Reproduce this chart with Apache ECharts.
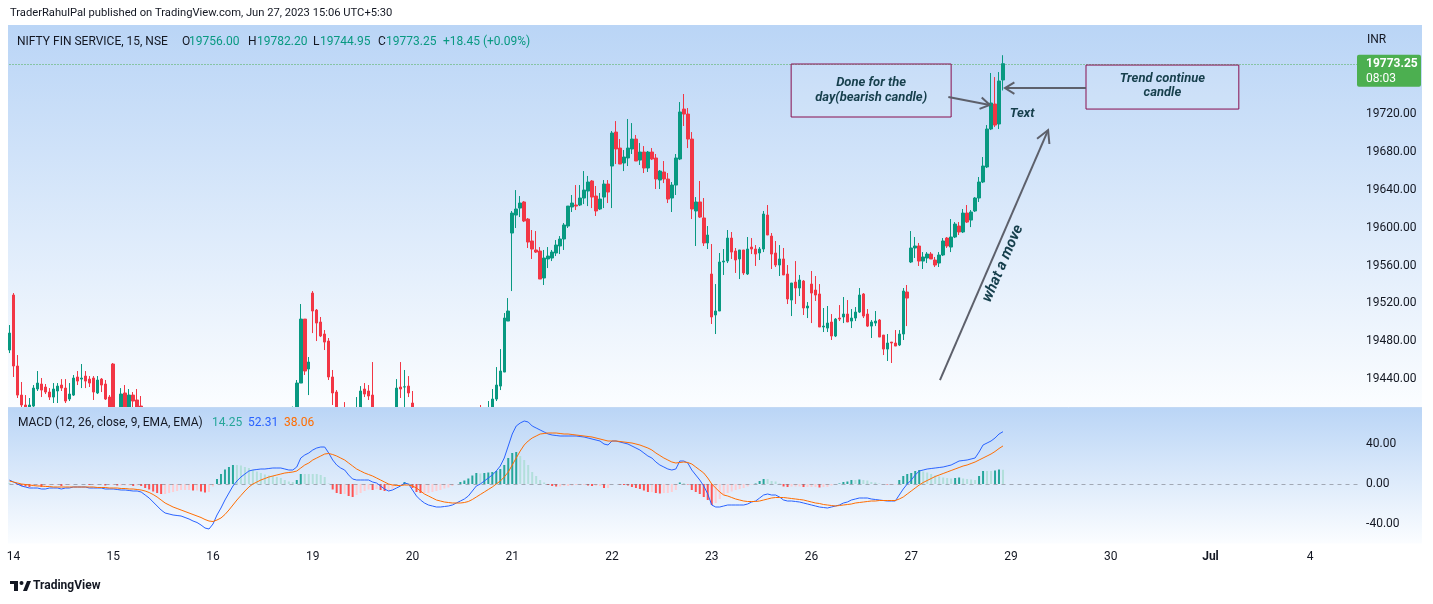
<!DOCTYPE html>
<html><head><meta charset="utf-8">
<script src="https://cdn.jsdelivr.net/npm/echarts@6/dist/echarts.min.js"></script>
<style>html,body{margin:0;padding:0;background:#fff;}#c{width:1433px;height:604px;}</style>
</head><body><div id="c"></div>
<script>
// ---------- DATA (each candle: [open, close, low, high]) ----------
const dayLabels = ['14','15','16','19','20','21','22','23','26','27','29','30','Jul','4'];
const jun13Last = [[19470.7,19488.6,19467.5,19497.1]];
const jun14 = [[19528.8,19453.8,19442.2,19530.9],[19453.8,19423.1,19420.0,19465.4],[19423.1,19412.6,19405.2,19436.9],[19412.6,19409.4,19403.1,19423.1],[19410.5,19412.6,19405.2,19420.0],[19411.5,19430.5,19408.4,19433.7],[19429.5,19435.8,19427.4,19448.5],[19434.8,19428.4,19421.0,19441.1],[19431.6,19426.3,19424.2,19434.8],[19426.3,19421.0,19417.9,19430.5],[19421.0,19429.5,19414.7,19435.8],[19427.4,19432.6,19414.7,19435.8],[19433.7,19430.5,19427.4,19440.0],[19430.5,19416.8,19414.7,19440.0],[19418.9,19424.2,19416.8,19435.8],[19423.1,19441.1,19422.1,19444.3],[19442.2,19437.9,19433.7,19448.5],[19440.0,19441.1,19430.5,19455.9],[19443.2,19437.9,19430.5,19448.5],[19440.0,19435.8,19431.6,19443.2],[19441.1,19426.3,19417.9,19443.2],[19425.3,19439.0,19424.2,19443.2],[19440.0,19433.7,19426.3,19441.1],[19434.8,19418.9,19417.9,19439.0],[19421.0,19410.5,19405.2,19423.1]];
const jun15 = [[19455.9,19402.0,19396.7,19457.0],[19402.0,19396.0,19390.0,19406.0],[19402.0,19424.2,19398.8,19430.5],[19425.3,19407.3,19405.2,19433.7],[19407.3,19423.1,19404.1,19429.5],[19423.1,19416.8,19410.5,19426.3],[19417.9,19408.4,19405.2,19429.5],[19411.5,19406.3,19403.1,19422.1],[19406,19385,19380,19408],[19385,19370,19362,19390],[19370,19352,19348,19374],[19352,19345,19338,19360],[19345,19332,19325,19350],[19332,19338,19326,19344],[19338,19330,19324,19345],[19330,19336,19322,19342],[19336,19325,19318,19340],[19325,19318,19312,19330],[19318,19322,19310,19328],[19322,19310,19305,19326],[19310,19300,19295,19315],[19300,19305,19294,19312],[19305,19292,19285,19308],[19292,19280,19275,19296],[19280,19285,19272,19292]];
const jun16 = [[19360,19378,19352,19382],[19378,19372,19366,19386],[19372,19385,19368,19390],[19385,19390,19378,19395],[19390,19384,19380,19396],[19384,19392,19380,19398],[19392,19395,19386,19400],[19395,19388,19384,19401],[19388,19394,19383,19399],[19394,19390,19386,19400],[19390,19396,19386,19401],[19396,19392,19388,19402],[19392,19398,19389,19403],[19398,19394,19390,19404],[19394,19399,19390,19404],[19399,19396,19391,19405],[19396,19400,19392,19405],[19400,19395,19390,19405],[19395,19398,19391,19404],[19398,19396,19392,19404],[19400,19410,19398,19411],[19408,19435.8,19404,19439.0],[19435.8,19503.4,19435.8,19519.3],[19503.4,19448.5,19444.3,19503.4],[19450.6,19458.0,19423.1,19463.3]];
const jun19 = [[19530.9,19511.9,19488.6,19533.0],[19512.9,19499.2,19480.2,19514.0],[19500.3,19485.5,19484.4,19505.6],[19487.6,19479.1,19470.7,19491.8],[19480.2,19442.2,19439.0,19483.4],[19442.2,19425.3,19412.6,19449.6],[19426.3,19405.2,19402.0,19428.4],[19405,19398,19392,19408],[19400,19394,19388,19415.7],[19394,19398,19388,19404],[19398,19392,19386,19403],[19392,19404,19388,19421.0],[19404,19427.4,19400,19432.6],[19429.5,19424.2,19421.0,19435.8],[19427.4,19422.1,19417.9,19433.7],[19423.1,19407.3,19405.2,19458.0],[19407,19398,19392,19409],[19398,19394,19388,19405],[19394,19390,19384,19400],[19390,19396,19385,19402],[19396,19402,19390,19406],[19405,19430.5,19400,19440.0],[19431.6,19429.5,19420.0,19458.0],[19431.6,19431.8,19408,19449.6],[19432.6,19425.3,19421.0,19443.2]];
const jun20 = [[19414.7,19405,19398,19427.4],[19405,19385,19380,19408],[19385,19372,19366,19390],[19372,19365,19358,19380],[19365,19370,19360,19376],[19370,19362,19355,19374],[19362,19366,19356,19372],[19366,19360,19354,19371],[19360,19368,19356,19373],[19368,19372,19362,19378],[19372,19368,19363,19378],[19368,19378,19365,19382],[19378,19385,19374,19390],[19385,19382,19378,19392],[19382,19392,19378,19396],[19392,19398,19388,19402],[19398,19395,19390,19404],[19400,19396,19392,19412.6],[19396,19402,19392,19406],[19400,19408,19396,19416.8],[19406,19418.9,19402,19429.5],[19418.9,19433.7,19416.8,19452.7],[19432.6,19448.5,19428.4,19471.7],[19447.4,19504.5,19447.4,19509.8],[19501.3,19511.9,19501.3,19525.6]];
const jun21 = [[19594.3,19615.4,19533.0,19617.6],[19613.3,19619.7,19599.6,19639.7],[19620.7,19626.0,19611.2,19633.4],[19627.1,19607.0,19605.9,19628.1],[19609.1,19584.8,19578.5,19610.2],[19585.9,19577.4,19566.9,19597.5],[19576.4,19574.2,19573.2,19596.4],[19575.3,19545.7,19545.7,19579.5],[19546.8,19567.9,19539.4,19576.4],[19566.9,19570.0,19557.3,19579.5],[19567.9,19574.2,19564.7,19576.4],[19573.2,19581.6,19570.0,19586.9],[19580.6,19588.0,19572.1,19591.1],[19588.0,19602.8,19576.4,19604.9],[19601.7,19622.8,19599.6,19622.8],[19621.8,19626.0,19616.5,19634.5],[19623.9,19622.8,19618.6,19645.0],[19623.9,19631.3,19622.8,19645.0],[19631.3,19639.7,19624.9,19659.8],[19638.7,19648.2,19622.8,19654.6],[19649.3,19632.3,19620.7,19650.3],[19633.4,19617.6,19612.3,19644.0],[19619.7,19630.2,19618.6,19636.6],[19632.3,19646.1,19620.7,19650.3],[19646.1,19637.6,19626.0,19650.3]];
const jun22 = [[19665.1,19700.0,19620.7,19702.1],[19701.0,19683.1,19667.2,19712.6],[19684.1,19667.2,19667.2,19693.6],[19668.3,19674.6,19659.8,19682.0],[19673.6,19684.1,19665.1,19714.8],[19683.1,19693.6,19677.8,19710.5],[19693.6,19670.4,19670.4,19697.9],[19671.4,19679.9,19666.2,19689.4],[19679.9,19663.0,19657.7,19686.2],[19663.0,19679.9,19658.8,19681.0],[19679.9,19672.5,19671.4,19684.1],[19673.6,19651.4,19640.8,19677.8],[19650.3,19659.8,19640.8,19660.9],[19658.8,19651.4,19647.1,19670.4],[19651.4,19630.2,19626.0,19657.7],[19631.3,19645.0,19616.5,19648.2],[19645.0,19673.6,19634.5,19677.8],[19672.5,19722.2,19671.4,19732.7],[19725.3,19720.0,19707.4,19741.2],[19720.0,19693.6,19684.1,19726.4],[19693.6,19619.7,19609.1,19701.0],[19617.6,19627.1,19580.6,19632.3],[19627.1,19611.2,19610.2,19649.3],[19610.2,19583.8,19580.6,19631.3],[19583.8,19592.2,19577.4,19601.7]];
const jun23 = [[19551.0,19505.6,19498.2,19582.7],[19507.7,19511.9,19487.6,19540.4],[19511.9,19563.7,19511.9,19573.2],[19563.7,19564.7,19550.0,19577.4],[19564.7,19589.0,19562.6,19597.5],[19589.0,19574.2,19566.9,19595.4],[19575.3,19565.8,19552.1,19578.5],[19566.9,19576.4,19545.7,19576.4],[19576.4,19552.1,19550.0,19576.4],[19551.0,19577.4,19550.0,19590.1],[19579.5,19577.4,19572.1,19589.0],[19577.4,19572.1,19559.5,19581.6],[19573.2,19577.4,19565.8,19579.5],[19577.4,19614.4,19574.2,19617.6],[19613.3,19592.2,19592.2,19623.9],[19591.1,19572.1,19556.3,19594.3],[19573.2,19560.5,19558.4,19585.9],[19560.5,19566.9,19548.9,19581.6],[19566.9,19550.0,19550.0,19578.5],[19551.0,19524.6,19519.3,19560.5],[19523.5,19541.5,19506.6,19541.5],[19542.5,19536.2,19519.3,19564.7],[19536.2,19544.7,19527.7,19550.0],[19543.6,19515.1,19507.7,19544.7],[19515.1,19517.2,19504.5,19521.4]];
const jun26 = [[19540.4,19530.9,19499.2,19554.2],[19534.1,19528.8,19522.5,19548.9],[19529.9,19495.0,19495.0,19540.4],[19495.0,19496.0,19489.7,19515.1],[19493.9,19499.2,19489.7,19517.2],[19500.3,19485.5,19481.3,19508.7],[19485.5,19503.4,19484.4,19504.5],[19504.5,19503.4,19501.3,19518.2],[19505.6,19508.7,19499.2,19526.7],[19508.7,19500.3,19500.3,19523.5],[19501.3,19504.5,19493.9,19514.0],[19504.5,19510.8,19501.3,19516.1],[19510.8,19528.8,19509.8,19536.2],[19529.9,19506.6,19504.5,19530.9],[19508.7,19496.0,19495.0,19514.0],[19496.0,19500.3,19483.4,19502.4],[19499.2,19501.3,19496.0,19511.9],[19502.4,19484.4,19484.4,19503.4],[19486.5,19471.7,19465.4,19486.5],[19471.7,19478.1,19459.1,19487.6],[19479.1,19478.1,19457.0,19479.1],[19478.1,19474.9,19474.9,19491.8],[19476.0,19487.6,19474.9,19491.8],[19487.6,19533.0,19481.3,19536.2],[19532.0,19525.6,19496.0,19539.4]];
const jun27 = [[19563.7,19578.5,19562.6,19596.4],[19578.5,19580.6,19567.9,19590.1],[19580.6,19564.7,19559.5,19583.8],[19564.7,19569.0,19556.3,19574.2],[19567.9,19572.1,19562.6,19574.2],[19572.1,19566.9,19566.9,19574.2],[19565.8,19560.5,19558.4,19569.0],[19562.6,19571.1,19558.4,19574.2],[19571.1,19585.9,19570.0,19589.0],[19589.0,19580.6,19578.5,19590.1],[19579.5,19590.1,19574.2,19609.1],[19590.1,19603.8,19589.0,19605.9],[19601.7,19595.4,19592.2,19605.9],[19595.4,19615.4,19594.3,19619.7],[19615.4,19605.9,19604.9,19623.9],[19608.0,19616.5,19600.6,19618.6],[19617.6,19631.3,19616.5,19632.3],[19631.3,19648.2,19627.1,19653.5],[19648.2,19665.1,19647.1,19674.6],[19664.1,19704.2,19663.0,19708.4],[19704.2,19731.7,19703.1,19763.4],[19730.6,19708.4,19706.3,19759.1],[19709.5,19754.9,19704.2,19764.4],[19756.00,19773.25,19744.95,19782.20]];

// MACD line (12,26) and signal (9) read per bar
const macd13 = [4], sig13 = [3];
const macd14 = [2,0,-2,-3,-4,-4,-4,-5,-5,-4,-4,-4,-5,-4,-4,-3,-3,-3,-3,-4,-4,-4,-4,-5,-5];
const sig14  = [2,1,0,-0.5,-1,-1.5,-2,-2,-2.5,-2.5,-3,-3,-3,-3,-3,-3,-3,-3,-3,-3,-3,-3.5,-3.5,-3.5,-4];
const macd15 = [-5,-5.5,-6,-6,-6.5,-7,-7,-8,-11,-14,-18,-22,-26,-29,-30,-31,-31.5,-32,-33.5,-35,-37,-38.5,-41,-44,-45];
const sig15  = [-4,-4,-4.5,-4.5,-5,-5,-5.5,-6,-7,-8.5,-10.5,-13,-16,-19,-21,-23,-24.5,-26,-27.5,-29,-30.5,-32,-33.5,-35.5,-37];
const macd16 = [-40,-31,-24,-16,-9,-2,3,7,10,13,14,14.5,15,15,15.5,16,16,16,15,14,14,17,26,29,31];
const sig16  = [-37.5,-36,-34,-30.5,-26,-21,-16,-11.5,-7,-3,0,2,4,5.5,7,8,9,10,11,11.5,12,13,16,19,21];
const macd19 = [34,36,37,37,31,24,19,16,14,9,5,4,4,4,4,2,1,-2,-5,-7,-6,-4,-2,1,0];
const sig19  = [24,26,28,30,30.5,29.5,28,26,24,21,18,15,13,11,9.5,8,6,4,2,0,-1,-1.5,-1.5,-1,-1];
const macd20 = [-6,-12,-16,-19,-21,-22,-23,-23,-22.5,-22,-21,-19,-17,-15,-12,-7,-2,0,3,6,9,13,18,26,38];
const sig20  = [-2,-4,-7,-10,-12,-14,-16,-17,-18,-18.5,-19,-19,-19,-18.5,-17.5,-15.5,-13,-10.5,-8,-5.5,-3,0,3,7,12];
const macd21 = [50,58,61,63,62,58,56,54,52,50,49,48.5,48,48,48,48,48,47.5,47,46,45,44,43,40,39];
const sig21  = [19,26,33,39,43,46,48,50,50.5,51,51,51,50.5,50,50,49.5,49,48.5,48,47.5,47,46,45,44,43];
const macd22 = [43,43,42,41,40,38,36,34,31,28,26,22,19,17,15,14,15,23,23,21,14,9,4,-2,-10];
const sig22  = [43,43,42.5,42,41.5,41,40,39,37.5,36,34,31,28.5,26,24,22,21,21.5,22,21.5,20,17,14,11,6];
const macd23 = [-21,-23,-23,-22,-21,-21,-21,-21,-21,-20,-18,-17,-14,-11,-10,-11,-11,-13,-16,-17,-17,-17.5,-18,-19,-20];
const sig23  = [0,-4,-8,-11,-12,-13.5,-15,-16,-17,-17.5,-17.5,-17.5,-17,-16,-15,-14,-13.5,-13.5,-13.5,-14,-14.5,-15,-15.5,-16,-17];
const macd26 = [-21,-22,-23,-23.5,-24,-23,-22,-21,-19,-18,-16,-15,-14,-14,-14,-15,-15.5,-16,-16.5,-17,-17,-17,-11,-5,0];
const sig26  = [-18,-19,-19.5,-20.5,-21,-21.5,-22,-21.5,-21,-20.5,-20,-19,-18.5,-18,-17.5,-17,-17,-16.5,-16.5,-16.5,-16.5,-16.5,-15,-13,-10];
const macd27 = [4,9,13,14,15,15.5,16,16.5,17,18,19,21,23,23.5,24,25,26,32,39,41,43,46,50,52.31];
const sig27  = [-7,-4,-1,1.5,3.5,5.5,7.5,9,10.5,12,13.5,15,16.5,18,19,20.5,22,24,26,28,30,32.5,35.5,38.06];

const priceTicks = [19440,19480,19520,19560,19600,19640,19680,19720];
const macdTicks = [-40,0,40];
const lastPrice = 19773.25;

// ---------- BUILD ----------
const candles = [].concat(jun13Last,jun14,jun15,jun16,jun19,jun20,jun21,jun22,jun23,jun26,jun27);
const macd = [].concat(macd13,macd14,macd15,macd16,macd19,macd20,macd21,macd22,macd23,macd26,macd27);
const signal = [].concat(sig13,sig14,sig15,sig16,sig19,sig20,sig21,sig22,sig23,sig26,sig27);
const hist = macd.map((m,i)=>+(m-signal[i]).toFixed(2));
const histData = hist.map((h,i)=>{
  const p = i>0 ? hist[i-1] : h;
  const c = h>=0 ? (h>p ? '#26A69A' : '#B2DFDB') : (h<p ? '#FF5252' : '#FFCDD2');
  return {value:h, itemStyle:{color:c}};
});
const categories = ['13#24'];
dayLabels.forEach(d=>{ for(let i=0;i<25;i++) categories.push(d+'#'+i); });
categories.length = 339;

const FONT = 'Roboto, "Noto Sans", sans-serif';
const TXT = '#131722';
const GL = 9.5, GW = 1348.62;

const chart = echarts.init(document.getElementById('c'), null, {renderer:'canvas'});
chart.setOption({
  animation:false,
  backgroundColor:'#ffffff',
  textStyle:{fontFamily:FONT},
  grid:[
    {left:GL, top:27, width:GW, height:380},
    {left:GL, top:408, width:GW, height:135}
  ],
  xAxis:[
    {type:'category', gridIndex:0, data:categories, boundaryGap:false, show:false},
    {type:'category', gridIndex:1, data:categories, boundaryGap:false, z:6,
     axisLine:{show:false}, axisTick:{show:false}, splitLine:{show:false},
     axisLabel:{interval:0, margin:8, color:TXT, fontSize:12, fontFamily:FONT,
       formatter:v=>{const s=v.split('#'); if(s[1]!=='0') return ''; return s[0]==='Jul'?'{b|Jul}':s[0];},
       rich:{b:{fontWeight:'bold', fontSize:12, color:TXT, fontFamily:FONT}}}}
  ],
  yAxis:[
    {type:'value', gridIndex:0, position:'right', min:19410.5, max:19812.0, z:6,
     axisLine:{show:false}, axisTick:{show:false}, splitLine:{show:false},
     axisLabel:{customValues:priceTicks, margin:8, color:TXT, fontSize:12, fontFamily:FONT, formatter:v=>v.toFixed(2)}},
    {type:'value', gridIndex:1, position:'right', min:-59, max:76, z:6,
     axisLine:{show:false}, axisTick:{show:false}, splitLine:{show:false},
     axisLabel:{customValues:macdTicks, margin:8, color:TXT, fontSize:12, fontFamily:FONT, formatter:v=>v.toFixed(2)}}
  ],
  series:[
    {type:'candlestick', xAxisIndex:0, yAxisIndex:0, data:candles, barWidth:3, clip:false, z:2,
     itemStyle:{color:'#089981', color0:'#F23645', borderColor:'#089981', borderColor0:'#F23645', borderColorDoji:'#089981', borderWidth:1}},
    {type:'bar', xAxisIndex:1, yAxisIndex:1, data:histData, barWidth:2, z:4,
     markLine:{silent:true, symbol:['none','none'], label:{show:false}, emphasis:{disabled:true},
       lineStyle:{color:'rgba(120,123,134,0.6)', type:[4,4], width:1}, data:[{yAxis:0}]}},
    {type:'line', xAxisIndex:1, yAxisIndex:1, data:macd, showSymbol:false, z:5,
     lineStyle:{color:'#2962FF', width:1}},
    {type:'line', xAxisIndex:1, yAxisIndex:1, data:signal, showSymbol:false, z:5,
     lineStyle:{color:'#FF6D00', width:1}}
  ]
});

// ---------- OVERLAYS ----------
function px(k){ const k0=Math.floor(k); const a=chart.convertToPixel({xAxisIndex:0},k0); const b=chart.convertToPixel({xAxisIndex:0},k0+1); return a+(b-a)*(k-k0); }
function py(p){ return chart.convertToPixel({yAxisIndex:0},p); }
function arrowHead(x1,y1,x2,y2,len,ang){
  const t=Math.atan2(y2-y1,x2-x1);
  return [[x2-len*Math.cos(t-ang), y2-len*Math.sin(t-ang)],[x2,y2],[x2-len*Math.cos(t+ang), y2-len*Math.sin(t+ang)]];
}
const grad = ()=>({type:'linear', x:0, y:0, x2:0, y2:1, colorStops:[{offset:0,color:'#bad5f6'},{offset:1,color:'#fbfdff'}]});
const lastY = py(lastPrice);
const lineY = Math.round(lastY)+0.5;
const ANN = '#163f4c';
const ARW = '#5d606b';
const g = [];
// pane backgrounds
g.push({type:'rect', z:-10, shape:{x:8, y:25, width:1414, height:382}, style:{fill:grad()}});
g.push({type:'rect', z:3, shape:{x:8, y:407.5, width:1414, height:136}, style:{fill:grad()}});
g.push({type:'rect', z:3, shape:{x:0, y:25, width:8, height:520}, style:{fill:'#ffffff'}});
g.push({type:'line', z:3, shape:{x1:8, y1:407.5, x2:1422, y2:407.5}, style:{stroke:'#c3d9f4', lineWidth:1}});
// current price dotted line
g.push({type:'line', z:1, shape:{x1:px(0), y1:lineY, x2:1357, y2:lineY}, style:{stroke:'#4CAF50', lineWidth:1, lineDash:[1,2]}});
// header / legends
g.push({type:'text', z:10, x:10, y:13, style:{text:'TraderRahulPal published on TradingView.com, Jun 27, 2023 15:06 UTC+5:30', fill:TXT, font:'11.2px '+FONT, verticalAlign:'middle'}});
g.push({type:'text', z:10, x:17, y:42, style:{text:'NIFTY FIN SERVICE, 15, NSE', fill:TXT, font:'12px '+FONT, verticalAlign:'middle'}});
[['O',182,'19756.00',189],['H',248,'19782.20',257],['L',313,'19744.95',320],['C',378,'19773.25',386]].forEach(a=>{
  g.push({type:'text', z:10, x:a[1], y:42, style:{text:a[0], fill:TXT, font:'12px '+FONT, verticalAlign:'middle'}});
  g.push({type:'text', z:10, x:a[3], y:42, style:{text:a[2], fill:'#089981', font:'12px '+FONT, verticalAlign:'middle'}});
});
g.push({type:'text', z:10, x:443, y:42, style:{text:'+18.45 (+0.09%)', fill:'#089981', font:'12px '+FONT, verticalAlign:'middle'}});
g.push({type:'text', z:10, x:1367, y:40, style:{text:'INR', fill:TXT, font:'12px '+FONT, verticalAlign:'middle'}});
g.push({type:'text', z:10, x:18, y:423, style:{text:'MACD (12, 26, close, 9, EMA, EMA)', fill:TXT, font:'12px '+FONT, verticalAlign:'middle'}});
g.push({type:'text', z:10, x:212, y:423, style:{text:hist[hist.length-1].toFixed(2), fill:'#26A69A', font:'12px '+FONT, verticalAlign:'middle'}});
g.push({type:'text', z:10, x:248, y:423, style:{text:macd[macd.length-1].toFixed(2), fill:'#2962FF', font:'12px '+FONT, verticalAlign:'middle'}});
g.push({type:'text', z:10, x:284, y:423, style:{text:signal[signal.length-1].toFixed(2), fill:'#FF6D00', font:'12px '+FONT, verticalAlign:'middle'}});
// last price label
g.push({type:'rect', z:10, shape:{x:1357, y:lastY-9, width:64, height:32, r:2}, style:{fill:'#4CAF50'}});
g.push({type:'text', z:11, x:1366, y:lastY, style:{text:lastPrice.toFixed(2), fill:'#ffffff', font:'bold 12px '+FONT, verticalAlign:'middle'}});
g.push({type:'text', z:11, x:1366, y:lastY+15, style:{text:'08:03', fill:'#ffffff', font:'12px '+FONT, verticalAlign:'middle'}});
// annotation: box 1
{
  const x1=px(195.9), x2=px(236.0), y1=py(19772.9), y2=py(19716.9);
  g.push({type:'rect', z:12, shape:{x:x1, y:y1, width:x2-x1, height:y2-y1}, style:{fill:'rgba(255,255,255,0.12)', stroke:'#880E4F', lineWidth:1}});
  g.push({type:'text', z:12, x:(x1+x2)/2, y:py(19752.8), style:{text:'Done for the', fill:ANN, font:'italic bold 13px '+FONT, align:'center', verticalAlign:'middle'}});
  g.push({type:'text', z:12, x:(x1+x2)/2, y:py(19737.0), style:{text:'day(bearish candle)', fill:ANN, font:'italic bold 13px '+FONT, align:'center', verticalAlign:'middle'}});
  const ax1=px(235.3), ay1=py(19738.0), ax2=px(245.7), ay2=py(19729.6);
  g.push({type:'line', z:12, shape:{x1:ax1,y1:ay1,x2:ax2,y2:ay2}, style:{stroke:ARW, lineWidth:2}});
  g.push({type:'polyline', z:12, shape:{points:arrowHead(ax1,ay1,ax2,ay2,11,0.55)}, style:{stroke:ARW, lineWidth:2, fill:null}});
}
// annotation: box 2
{
  const x1=px(269.8), x2=px(308.1), y1=py(19771.8), y2=py(19725.3);
  g.push({type:'rect', z:12, shape:{x:x1, y:y1, width:x2-x1, height:y2-y1}, style:{fill:'rgba(255,255,255,0.12)', stroke:'#880E4F', lineWidth:1}});
  g.push({type:'text', z:12, x:(x1+x2)/2, y:py(19757.0), style:{text:'Trend continue', fill:ANN, font:'italic bold 13px '+FONT, align:'center', verticalAlign:'middle'}});
  g.push({type:'text', z:12, x:(x1+x2)/2, y:py(19742.2), style:{text:'candle', fill:ANN, font:'italic bold 13px '+FONT, align:'center', verticalAlign:'middle'}});
  const ax1=px(269.8), ay1=py(19747.5), ax2=px(249.5), ay2=py(19747.5);
  g.push({type:'line', z:12, shape:{x1:ax1,y1:ay1,x2:ax2,y2:ay2}, style:{stroke:ARW, lineWidth:2}});
  g.push({type:'polyline', z:12, shape:{points:arrowHead(ax1,ay1,ax2,ay2,11,0.55)}, style:{stroke:ARW, lineWidth:2, fill:null}});
}
g.push({type:'text', z:12, x:px(253.8), y:py(19720.0), style:{text:'Text', fill:ANN, font:'italic bold 13px '+FONT, align:'center', verticalAlign:'middle'}});
// long arrow + rotated text
{
  const ax1=px(233.2), ay1=py(19439.0), ax2=px(260.3), ay2=py(19703.1);
  g.push({type:'line', z:12, shape:{x1:ax1,y1:ay1,x2:ax2,y2:ay2}, style:{stroke:ARW, lineWidth:2}});
  g.push({type:'polyline', z:12, shape:{points:arrowHead(ax1,ay1,ax2,ay2,14,0.5)}, style:{stroke:ARW, lineWidth:2, fill:null}});
  const ang = Math.atan2(ay1-ay2, ax2-ax1);
  g.push({type:'text', z:12, x:px(249.0), y:py(19562.0), rotation:ang, style:{text:'what a move', fill:ANN, font:'italic bold 15px '+FONT, align:'center', verticalAlign:'middle'}});
}
// footer logo
g.push({type:'rect', z:10, shape:{x:10, y:581, width:8, height:3}, style:{fill:TXT}});
g.push({type:'rect', z:10, shape:{x:14, y:581, width:4, height:10}, style:{fill:TXT}});
g.push({type:'circle', z:10, shape:{cx:21.5, cy:583, r:2}, style:{fill:TXT}});
g.push({type:'polygon', z:10, shape:{points:[[23,591],[27,581],[31,581],[27,591]]}, style:{fill:TXT}});
g.push({type:'text', z:10, x:33, y:586, style:{text:'TradingView', fill:TXT, font:'bold 12px '+FONT, verticalAlign:'middle'}});

chart.setOption({graphic:{elements:g}});
</script>
</body></html>
